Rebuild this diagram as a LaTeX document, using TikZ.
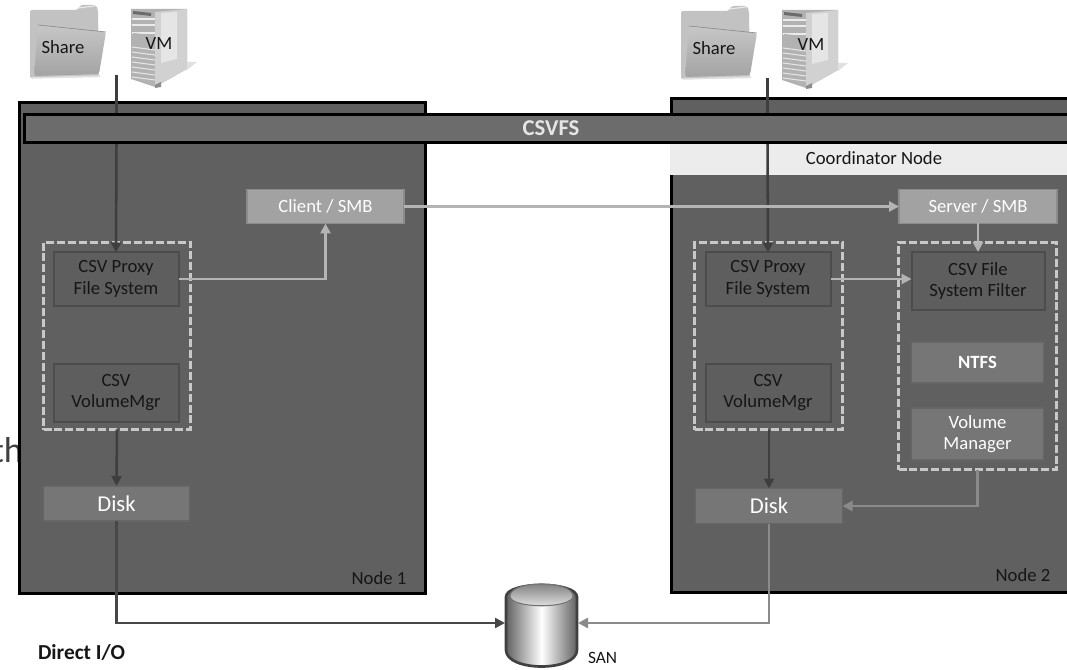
\documentclass[tikz,border=0pt]{standalone}
\usepackage{fontspec}
\setmainfont{Carlito}
\usetikzlibrary{arrows.meta}
\definecolor{panelc}{HTML}{606060}
\definecolor{barc}{HTML}{6C6C6C}
\definecolor{innerc}{HTML}{5E5E5E}
\definecolor{innerl}{HTML}{4C4C4C}
\definecolor{lightc}{HTML}{A2A2A2}
\definecolor{lightl}{HTML}{8C8C8C}
\definecolor{midc}{HTML}{767676}
\definecolor{midl}{HTML}{666666}
\definecolor{linkl}{HTML}{B4B4B4}
\definecolor{linkm}{HTML}{8A8A8A}
\definecolor{linkd}{HTML}{3E3E3E}
\definecolor{inktext}{HTML}{161616}
\definecolor{dashc}{HTML}{C8C8C8}
\tikzset{
  sz/.style 2 args={minimum width=#1*0.75pt, minimum height=#2*0.75pt, inner sep=0pt, outer sep=0pt, align=center},
  panelbox/.style={draw=black, line width=2.25pt, fill=panelc},
  innerbox/.style={draw=innerl, line width=1.5pt, fill=innerc, text=inktext, font=\fontsize{14}{16.3}\selectfont},
  midbox/.style={draw=midl, line width=1.1pt, fill=midc, text=white, font=\fontsize{14}{16.3}\selectfont},
  lightbox/.style={draw=lightl, line width=1.1pt, fill=lightc, text=white, font=\fontsize{14}{16}\selectfont},
  dashbox/.style={draw=dashc, line width=1.8pt, dash pattern=on 6pt off 2.2pt},
  tag/.style={inner sep=0pt, outer sep=0pt, text=inktext, font=\fontsize{14}{16}\selectfont},
  linkarrow/.style={line width=#1, -{Triangle[length=7.5pt,width=7.5pt]}},
  linkarrow/.default=1.9pt,
  folderico/.pic={
    \path[fill=black!24, rounded corners=1.5pt] (0,3) -- (48,3) -- (50,-2) -- (66,-2) -- (68,3) -- (69,70) -- (0,71) -- cycle;
    \path[top color=black!22, bottom color=black!36, rounded corners=2pt] (8,18) -- (76,25) -- (69,67) -- (4,69) -- cycle;
    \draw[black!8, line width=.8pt] (48,1) -- (65,-1);
    \draw[black!45, line width=.5pt] (8,18) -- (76,25);
    \draw[black!12, line width=1.2pt] (2,71) -- (70,69);
  },
  serverico/.pic={
    \path[fill=black!30] (0,0) -- (56,0) -- (56,60) -- (24,78) -- (0,70) -- cycle;
    \path[fill=black!18] (24,3) -- (56,0) -- (56,60) -- (24,78) -- cycle;
    \path[fill=black!12] (56,53) -- (66,53) -- (56,61) -- cycle;
    \foreach \yy in {38,43,...,68} {\draw[black!10, line width=.8pt] (1,\yy) -- (24,\yy+3);}
    \foreach \yy in {10,16,24} {\draw[black!8, line width=.9pt] (1,\yy) -- (24,\yy);}
    \path[fill=black!58] (2,2) -- (20,4) -- (20,7) -- (2,5) -- cycle;
    \path[fill=black!30] (2,24) -- (20,26) -- (20,36) -- (2,34) -- cycle;
    \path[fill=black!10] (30,4) -- (46,3) -- (46,50) -- (30,54) -- cycle;
    \path[fill=black!45] (24,76) -- (30,73) -- (30,78) -- (24,79) -- cycle;
  }
}
\begin{document}
\begin{tikzpicture}[x=0.75pt,y=-0.75pt]
\useasboundingbox (0,0) rectangle (1067,670);
\clip (0,0) rectangle (1067,670);
\node[anchor=base east, inner sep=0pt, text=black!75, font=\fontsize{27}{30}\selectfont] (cutoff) at (23,462) {th};
% panels
\node[panelbox, sz={406}{491}, anchor=north west] (nodeA) at (19.5,102.5) {};
\node[panelbox, sz={420}{493}, anchor=north west] (nodeB) at (671.5,99) {};
\fill[fill=black!7.5] (670,143) rectangle (1067,175.5);
\node[tag] (coord) at (874,158.5) {Coordinator Node};
% icons
\pic at (30,7) {folderico};
\pic at (131,9) {serverico};
\pic at (681,8) {folderico};
\pic at (782,10) {serverico};
\node[tag] (shareA) at (63,47) {Share};
\node[tag] (vmA) at (159,44) {VM};
\node[tag] (shareB) at (714,48) {Share};
\node[tag] (vmB) at (811,45) {VM};
\coordinate (startA) at (116.5,75);
\coordinate (startB) at (767.5,78);
% boxes
\node[innerbox, sz={125}{53}] (proxyA) at (116,279) {CSV Proxy\\File System};
\node[innerbox, sz={125}{58}] (mgrA) at (116,392.5) {CSV\\VolumeMgr};
\node[dashbox, sz={147}{187}, anchor=north west] (groupA) at (43.5,242.5) {};
\node[midbox, sz={146}{35}, font=\fontsize{17}{19}\selectfont] (diskA) at (116.5,503.5) {Disk};
\node[lightbox, sz={157}{34}] (client) at (325.5,206.5) {Client / SMB};
\node[innerbox, sz={125}{53}] (proxyB) at (768,279) {CSV Proxy\\File System};
\node[innerbox, sz={125}{58}] (mgrB) at (768,392.5) {CSV\\VolumeMgr};
\node[dashbox, sz={148}{187}, anchor=north west] (groupB) at (694.5,242.5) {};
\node[midbox, sz={147}{35}, font=\fontsize{17}{19}\selectfont] (diskB) at (769,506) {Disk};
\node[lightbox, sz={158}{34}] (server) at (978,206.5) {Server / SMB};
\node[innerbox, sz={133}{58}] (filter) at (978,281) {CSV File\\System Filter};
\node[midbox, sz={132}{41}, font=\fontsize{14}{16}\selectfont\bfseries] (ntfs) at (977.5,362.5) {NTFS};
\node[midbox, sz={132}{52}] (volmgr) at (977.5,434) {Volume\\Manager};
\node[dashbox, sz={158}{227}, anchor=north west] (groupC) at (898.5,242.5) {};
% SAN
\node[sz={73}{90}] (san) at (541.5,623) {};
\path[left color=black!62, right color=black!62, middle color=white, draw=black!75, line width=2pt]
  (506,597) .. controls (506,581) and (577,581) .. (577,597)
  -- (577,650) .. controls (577,672) and (506,672) .. (506,650) -- cycle;
\path[top color=black!55, bottom color=black!8, draw=black!55, line width=.8pt]
  (510,596) .. controls (510,580) and (573,580) .. (573,596)
  .. controls (573,609) and (510,609) .. (510,596) -- cycle;
% connectors
\draw[linkd, line width=1.9pt] (startA) -- (116.5,113);
\draw[linkd, line width=1.9pt] (startB) -- (767.5,113);
\draw[linkd, linkarrow] (116.5,143) -- (proxyA.north);
\draw[linkd, linkarrow] (767.5,143) -- (proxyB.north);
\draw[linkl, linkarrow=2.2pt] (proxyA.east) -| (client.south);
\draw[linkl, linkarrow=1.9pt] (client.east) -- (server.west);
\draw[linkl, linkarrow=1.9pt] (server.south) -- (filter.north);
\draw[linkl, linkarrow=1.9pt] (proxyB.east) -- (proxyB.east -| filter.west);
\draw[linkd, linkarrow] (groupA.south) -- (diskA.north);
\draw[linkd, linkarrow] (groupB.south -| diskB) -- (diskB.north);
\draw[linkm, linkarrow=1.7pt] (groupC.south) |- (diskB.east);
\draw[black!72, linkarrow=2pt] (diskA.south) |- (san.west);
\draw[linkm, linkarrow=2pt] (diskB.south) |- (san.east);
% bar
\node[panelbox, fill=barc, sz={1060}{28}, anchor=north west] (csvfs) at (24,114.5) {};
\node[inner sep=0pt, text=white!90!black, font=\fontsize{17}{19}\selectfont\bfseries] (csvfslabel) at (551,128.5) {CSVFS};
% labels
\node[tag] (labA) at (379,578) {Node 1};
\node[tag] (labB) at (1023,575) {Node 2};
\node[tag, anchor=west, font=\fontsize{16}{18}\selectfont\bfseries] (dio) at (38,652) {Direct I/O};
\node[tag, anchor=west, font=\fontsize{13}{15}\selectfont] (sanlab) at (588,658) {SAN};
\end{tikzpicture}
\end{document}
